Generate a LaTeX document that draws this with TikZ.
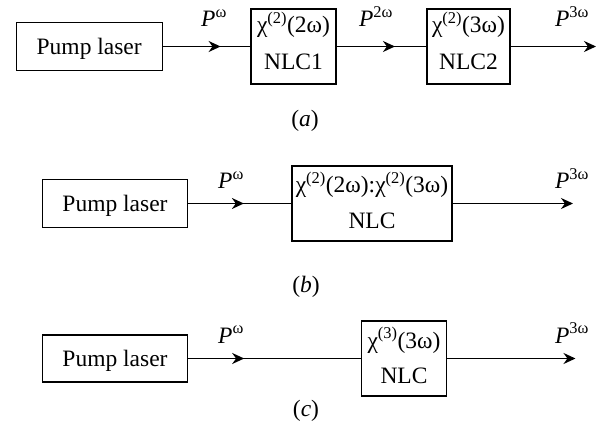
\documentclass[tikz,border=0pt]{standalone}
\usepackage{fontspec}
\newfontfamily\tnr{Liberation Serif}
\usetikzlibrary{arrows.meta,decorations.markings}
\tikzset{
  boxnode/.style={draw, line width=1.3pt, inner sep=0pt},
  lbl/.style={anchor=base, inner sep=0pt, font=\tnr\fontsize{23.5}{28}\selectfont},
  wire/.style={line width=1.6pt},
  midarrow/.style={postaction={decorate}, decoration={markings,
    mark=at position #1 with {\arrow{Stealth[length=12pt,width=11pt]}}}},
  outarrow/.style={-{Stealth[length=12pt,width=11pt]}}
}
\newcommand{\Pw}[1]{\textit{P}\textsuperscript{#1}}
\begin{document}
\begin{tikzpicture}[x=1pt,y=-1pt]
\useasboundingbox (0,0) rectangle (601,427);
% ---- (a)
\node[boxnode, minimum width=146pt, minimum height=48pt] (pumpA) at (89.2,46.5) {};
\node[lbl] (pumpAt) at (89.2,54.5) {Pump laser};
\node[boxnode, minimum width=85pt, minimum height=75pt] (nlc1) at (293.5,46.5) {};
\node[lbl] (nlc1a) at (293.5,33) {χ\textsuperscript{(2)}(2ω)};
\node[lbl] (nlc1b) at (293.5,70) {NLC1};
\node[boxnode, minimum width=83pt, minimum height=75pt] (nlc2) at (468.5,46.5) {};
\node[lbl] (nlc2a) at (468.5,33) {χ\textsuperscript{(2)}(3ω)};
\node[lbl] (nlc2b) at (468.5,70) {NLC2};
\coordinate (endA) at (596,46.5);
\draw[wire, midarrow=0.66] (pumpA.east) -- (nlc1.west);
\draw[wire, midarrow=0.65] (nlc1.east) -- (nlc2.west);
\draw[wire, outarrow] (nlc2.east) -- (endA);
\node[lbl] (la1) at (214,27) {\Pw{ω}};
\node[lbl] (la2) at (376,27) {\Pw{2ω}};
\node[lbl] (la3) at (572,27) {\Pw{3ω}};
\node[lbl] (capa) at (305,127) {(\textit{a})};
% ---- (b)
\node[boxnode, minimum width=145pt, minimum height=48pt] (pumpB) at (115,203.5) {};
\node[lbl] (pumpBt) at (115,211.5) {Pump laser};
\node[boxnode, minimum width=160pt, minimum height=75pt] (nlcB) at (372,203.5) {};
\node[lbl] (nlcBa) at (372,193) {χ\textsuperscript{(2)}(2ω):χ\textsuperscript{(2)}(3ω)};
\node[lbl] (nlcBb) at (372,229) {NLC};
\coordinate (endB) at (573,203.5);
\draw[wire, midarrow=0.54] (pumpB.east) -- (nlcB.west);
\draw[wire, outarrow] (nlcB.east) -- (endB);
\node[lbl] (lb1) at (231,189) {\Pw{ω}};
\node[lbl] (lb2) at (572,189) {\Pw{3ω}};
\node[lbl] (capb) at (306,292) {(\textit{b})};
% ---- (c)
\node[boxnode, minimum width=145pt, minimum height=47pt] (pumpC) at (115,358.5) {};
\node[lbl] (pumpCt) at (115,366.5) {Pump laser};
\node[boxnode, minimum width=85.6pt, minimum height=75pt] (nlcC) at (404,358.5) {};
\node[lbl] (nlcCa) at (404,348) {χ\textsuperscript{(3)}(3ω)};
\node[lbl] (nlcCb) at (404,383) {NLC};
\coordinate (endC) at (575.5,358.5);
\draw[wire, midarrow=0.325] (pumpC.east) -- (nlcC.west);
\draw[wire, outarrow] (nlcC.east) -- (endC);
\node[lbl] (lc1) at (231,343) {\Pw{ω}};
\node[lbl] (lc2) at (572,343) {\Pw{3ω}};
\node[lbl] (capc) at (306,416) {(\textit{c})};
\end{tikzpicture}
\end{document}
